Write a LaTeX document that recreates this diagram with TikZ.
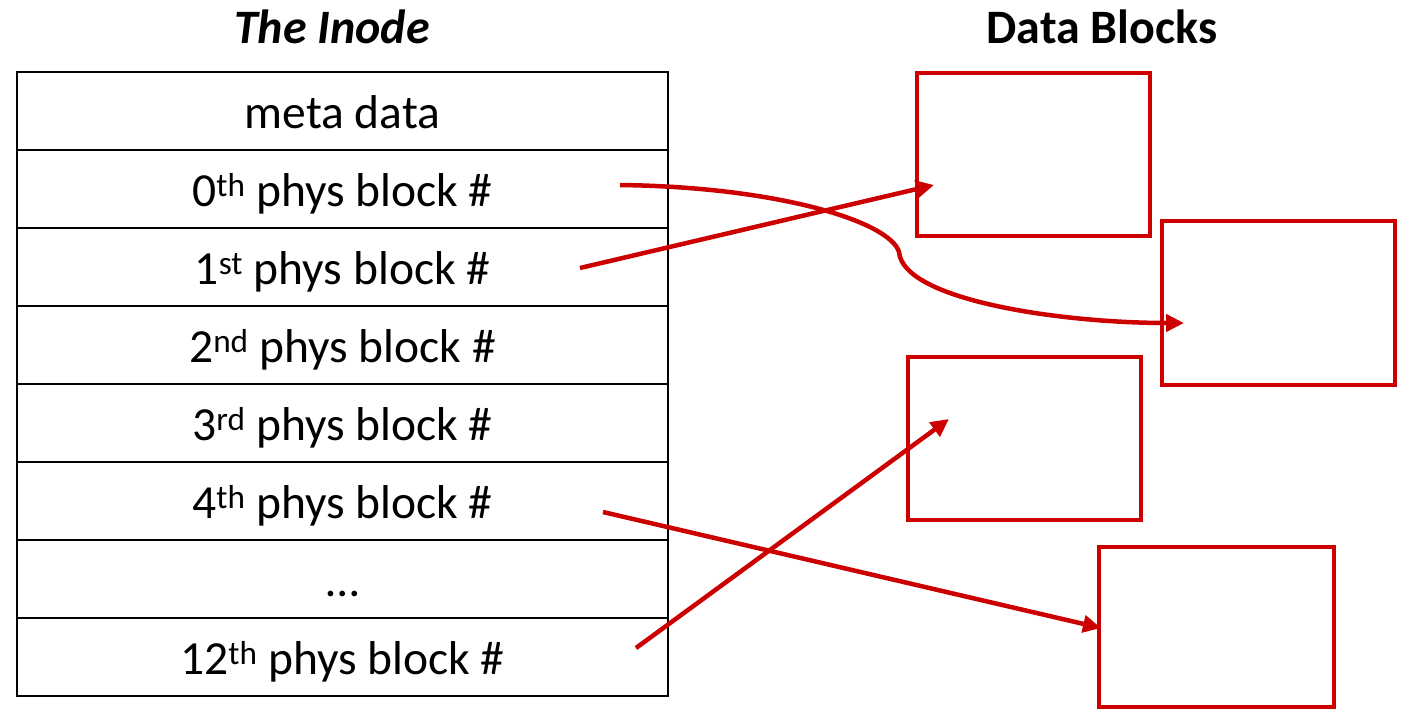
\documentclass[tikz,border=0pt]{standalone}
\usepackage{fontspec}
\setmainfont{Carlito}
\usetikzlibrary{arrows.meta}
\definecolor{dred}{RGB}{204,0,0}
\begin{document}
\begin{tikzpicture}[x=1pt,y=-1pt,
  rowbox/.style={draw=black,line width=2.5pt,minimum width=651pt,minimum height=78pt,inner sep=0pt,font=\fontsize{47.5}{56}\selectfont,anchor=center,text height=40pt,text depth=6pt},
  datablock/.style={draw=dred,line width=4.5pt,inner sep=0pt},
  ptr/.style={draw=dred,line width=4.5pt,-{Triangle[length=18pt,width=17pt]}},
  title/.style={font=\fontsize{48}{56}\selectfont\bfseries}]
\useasboundingbox (0,0) rectangle (1406,710);
% table rows
\node[rowbox] (r0) at (342.5,111) {meta data};
\node[rowbox] (r1) at (342.5,189) {0\textsuperscript{th} phys block \#};
\node[rowbox] (r2) at (342.5,267) {1\textsuperscript{st} phys block \#};
\node[rowbox] (r3) at (342.5,345) {2\textsuperscript{nd} phys block \#};
\node[rowbox] (r4) at (342.5,423) {3\textsuperscript{rd} phys block \#};
\node[rowbox] (r5) at (342.5,501) {4\textsuperscript{th} phys block \#};
\node[rowbox] (r6) at (342.5,579) {…};
\node[rowbox] (r7) at (342.5,657) {12\textsuperscript{th} phys block \#};
% titles
\node[title,font=\fontsize{48}{56}\selectfont\bfseries\itshape] (t1) at (332,27) {The Inode};
\node[title] (t2) at (1102,27) {Data Blocks};
% data blocks
\node[datablock,minimum width=233pt,minimum height=163pt] (b1) at (1033.5,154.5) {};
\node[datablock,minimum width=233pt,minimum height=164pt] (b2) at (1278.5,303) {};
\node[datablock,minimum width=233pt,minimum height=163pt] (b3) at (1024.5,438.5) {};
\node[datablock,minimum width=235pt,minimum height=160pt] (b4) at (1216.5,627) {};
% pointer coordinates
\coordinate (s0) at (620,185);
\coordinate (s1) at (580,268);
\coordinate (s4) at (603,512);
\coordinate (s12) at (636,648);
\coordinate (e1) at (934,185);
\coordinate (e2) at (1184,323);
\coordinate (e3) at (949,419);
\coordinate (e4) at (1101,628);
% arrows
\draw[ptr] (s0) .. controls (780,187) and (890,222) .. (899,252)
  .. controls (903,300) and (1060,323) .. (e2);
\draw[ptr] (s1) -- (e1);
\draw[ptr] (s4) -- (e4);
\draw[ptr] (s12) -- (e3);
\end{tikzpicture}
\end{document}
